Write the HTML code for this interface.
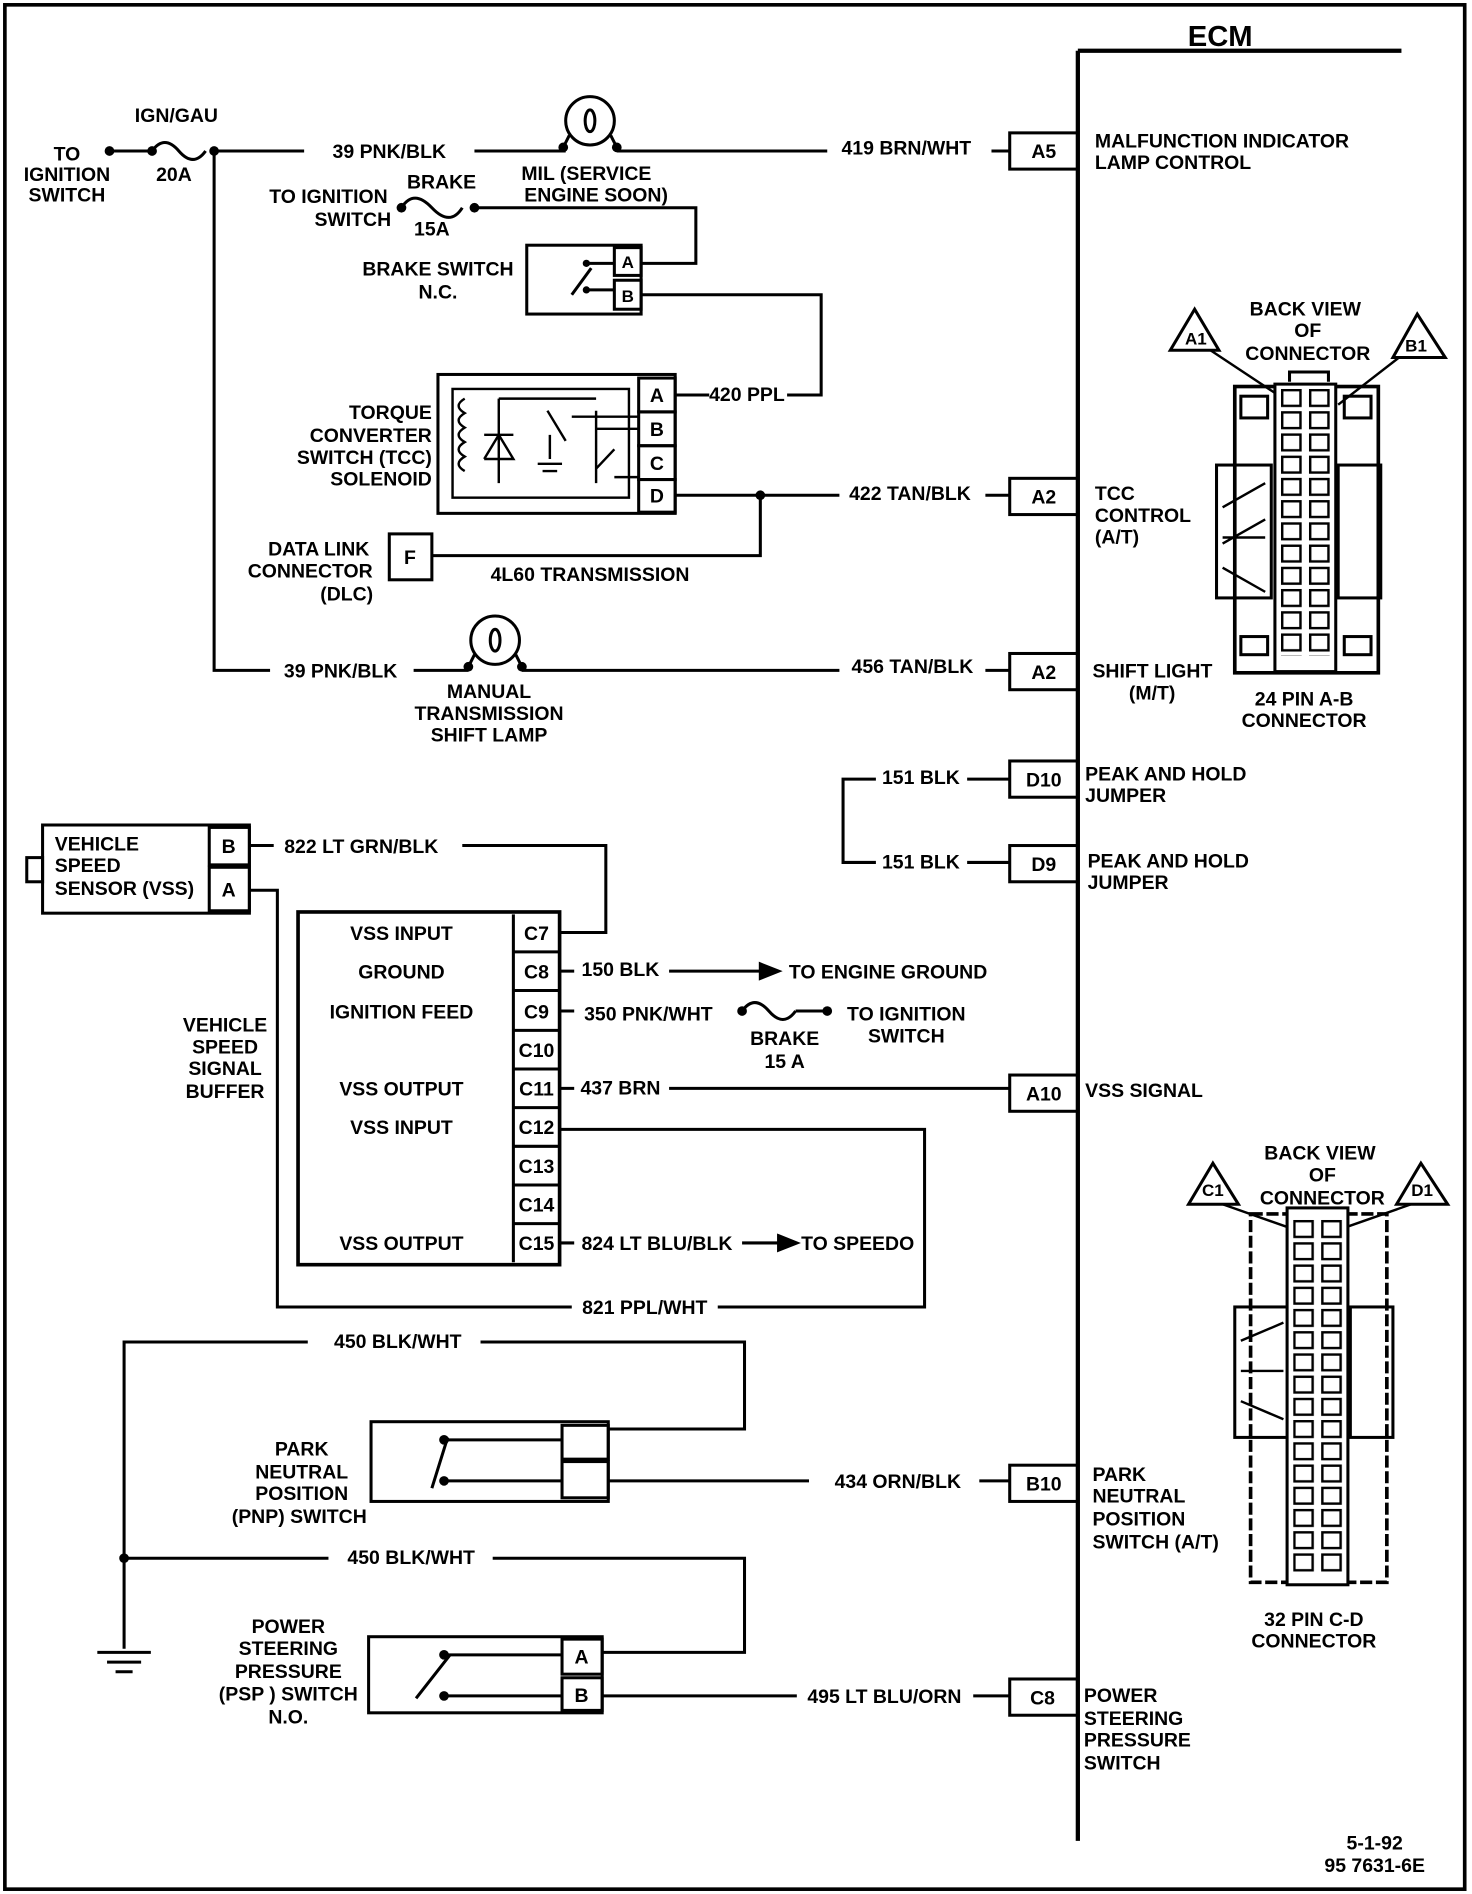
<!DOCTYPE html>
<html><head><meta charset="utf-8"><style>
html,body{margin:0;padding:0;background:#fff;}
svg{display:block;}
text{font-family:"Liberation Sans",sans-serif;font-weight:bold;font-size:16px;fill:#000;}
.m{text-anchor:middle}.e{text-anchor:end}
</style></head><body>
<svg width="1472" height="1894" viewBox="0 0 1210 1568" preserveAspectRatio="none" xmlns="http://www.w3.org/2000/svg">
<defs>
<pattern id="pinsAB" x="1053" y="322" width="23" height="18.4" patternUnits="userSpaceOnUse">
<rect x="1" y="1" width="15" height="13" fill="#fff" stroke="#000" stroke-width="2"/></pattern>
<pattern id="pinsCD" x="1063" y="1010" width="23" height="18.4" patternUnits="userSpaceOnUse">
<rect x="1" y="1" width="15" height="13" fill="#fff" stroke="#000" stroke-width="2"/></pattern>
</defs>
<g fill="none" stroke="#000" stroke-width="2.5">
<rect x="4" y="4" width="1200" height="1560" stroke-width="3"/>
<path d="M886 42V1524M886 42H1152" stroke-width="3.5"/>
<path d="M88 125H125M176 125H250M390 125H465M507 125H680M815 125H830"/>
<path d="M125 125q10-14 22 0t22 0"/>
<circle cx="485" cy="100" r="20"/><ellipse cx="485" cy="100" rx="4" ry="9"/>
<path d="M468 112L463 122M502 112L507 122"/>
<rect x="830" y="110" width="56" height="30"/>
<path d="M176 125V555H222M340 555H385M429 555H690M810 555H830"/>
<circle cx="407" cy="530" r="20"/><ellipse cx="407" cy="530" rx="4" ry="9"/>
<path d="M390 542L385 552M424 542L429 552"/>
<rect x="830" y="541" width="56" height="30"/>
<path d="M330 172q10-16 25 0t25 0M390 172H572V218H527"/>
<rect x="433" y="203" width="94" height="57"/>
<rect x="505" y="205" width="22" height="23"/><rect x="505" y="232" width="22" height="24"/>
<path d="M482 218H505M482 240H505M470 244L486 222"/>
<path d="M527 244H675V327H647M555 327H583"/>
<rect x="360" y="310" width="195" height="115"/>
<rect x="525" y="313" width="30" height="28"/><rect x="525" y="341" width="30" height="28"/><rect x="525" y="369" width="30" height="28"/><rect x="525" y="397" width="30" height="27"/>
<rect x="372" y="322" width="145" height="90" stroke-width="2"/>
<path d="M382 330q-10 6 0 12q-10 6 0 12q-10 6 0 12q-10 6 0 12q-10 6 0 12" stroke-width="2"/>
<path d="M410 330V400M398 380H422L410 360L398 380M398 360H422M450 340L465 365M452 360V380M442 384H462M446 390H458M490 340V400M490 388L505 372M470 345H525M490 355H525M505 395H525M410 330H490" stroke-width="2"/>
<path d="M555 410H690M810 410H830M625 410V460H355"/>
<rect x="830" y="396" width="56" height="30"/>
<rect x="320" y="442" width="35" height="38"/>
<path d="M720 645H693V714H720M795 645H830M795 714H830"/>
<rect x="830" y="630" width="56" height="30"/><rect x="830" y="700" width="56" height="30"/>
<rect x="35" y="683" width="170" height="73"/>
<rect x="172" y="685" width="33" height="31"/><rect x="172" y="718" width="33" height="36"/>
<rect x="22" y="710" width="13" height="20"/>
<path d="M205 700H225M380 700H498V772H460M205 737H228V1082H470M590 1082H760V935H460"/>
<rect x="245" y="755" width="215" height="292" stroke-width="3"/>
<path d="M422 757V1045"/>
<path d="M422 788H460M422 820H460M422 853H460M422 885H460M422 917H460M422 949H460M422 981H460M422 1013H460"/>
<path d="M460 804H472M550 804H625M460 837H472M610 837q10-14 22 0t22 0M654 837H680M460 901H472M550 901H830M460 1029H472M610 1029H640"/>
<path d="M625 798L640 804L625 810Z" fill="#000"/><path d="M640 1023L655 1029L640 1035Z" fill="#000"/>
<rect x="830" y="890" width="56" height="30"/>
<path d="M253 1111H102V1365M80 1368H124M88 1376H116M95 1384H109M395 1111H612V1183H500M102 1290H270M405 1290H612V1368H495"/>
<rect x="305" y="1177" width="195" height="66"/>
<rect x="462" y="1180" width="38" height="28"/><rect x="462" y="1210" width="38" height="30"/>
<path d="M365 1192H462M365 1226H462M355 1232L368 1190"/>
<path d="M500 1226H665M805 1226H830"/>
<rect x="830" y="1213" width="56" height="30"/>
<rect x="303" y="1355" width="192" height="63"/>
<rect x="462" y="1357" width="33" height="29"/><rect x="462" y="1389" width="33" height="27"/>
<path d="M365 1370H462M365 1404H462M342 1406L370 1370"/>
<path d="M495 1404H655M800 1404H830"/>
<rect x="830" y="1390" width="56" height="30"/>
<path d="M982 256L962 290H1002Z M1165 260L1145 296H1188Z" />
<path d="M995 290L1055 330M1150 296L1100 335" stroke-width="2"/>
<rect x="1015" y="320" width="118" height="237" stroke-width="3"/>
<rect x="1000" y="385" width="45" height="110"/><rect x="1100" y="385" width="35" height="110"/>
<rect x="1048" y="318" width="50" height="238" fill="#fff"/>
<rect x="1053" y="322" width="46" height="221" fill="url(#pinsAB)" stroke="none"/>
<path d="M1060 316V308H1092V316" />
<rect x="1020" y="328" width="22" height="18"/><rect x="1105" y="328" width="22" height="18"/>
<rect x="1020" y="527" width="22" height="15"/><rect x="1105" y="527" width="22" height="15"/>
<path d="M1005 420L1040 400M1005 445H1040M1005 470L1040 490M1005 450L1040 430" stroke-width="2"/>
<path d="M997 963L977 997H1018Z M1168 963L1148 997H1190Z"/>
<path d="M1005 997L1070 1020M1160 997L1095 1020" stroke-width="2"/>
<rect x="1028" y="1005" width="112" height="305" stroke-width="3" stroke-dasharray="10 3"/>
<rect x="1015" y="1082" width="45" height="108"/><rect x="1110" y="1082" width="35" height="108"/>
<rect x="1058" y="1000" width="50" height="312" fill="#fff"/>
<rect x="1063" y="1008" width="46" height="296" fill="url(#pinsCD)" stroke="none"/>
<path d="M1020 1110L1055 1095M1020 1135H1055M1020 1160L1055 1175" stroke-width="2"/>
</g>
<g fill="#000">
<circle cx="90" cy="125" r="4"/><circle cx="125" cy="125" r="4"/><circle cx="176" cy="125" r="4"/>
<circle cx="463" cy="122" r="4"/><circle cx="507" cy="122" r="4"/><circle cx="385" cy="552" r="4"/><circle cx="429" cy="552" r="4"/>
<circle cx="330" cy="172" r="4"/><circle cx="390" cy="172" r="4"/><circle cx="625" cy="410" r="4"/>
<circle cx="610" cy="837" r="4"/><circle cx="680" cy="837" r="4"/><circle cx="102" cy="1290" r="4"/>
<circle cx="482" cy="218" r="3"/><circle cx="482" cy="240" r="3"/>
<circle cx="365" cy="1192" r="4"/><circle cx="365" cy="1226" r="4"/><circle cx="365" cy="1370" r="4"/><circle cx="365" cy="1404" r="4"/>
</g>
<text x="1003" y="38" class="m" style="font-size:24px">ECM</text>
<text x="145" y="101" class="m">IGN/GAU</text>
<text x="55" y="133" class="m">TO</text><text x="55" y="150" class="m">IGNITION</text><text x="55" y="167" class="m">SWITCH</text>
<text x="143" y="150" class="m">20A</text>
<text x="320" y="131" class="m">39 PNK/BLK</text>
<text x="482" y="149" class="m">MIL (SERVICE</text><text x="490" y="167" class="m">ENGINE SOON)</text>
<text x="745" y="128" class="m">419 BRN/WHT</text>
<text x="858" y="131" class="m">A5</text>
<text x="900" y="122">MALFUNCTION INDICATOR</text><text x="900" y="140">LAMP CONTROL</text>
<text x="270" y="168" class="m">TO IGNITION</text><text x="290" y="187" class="m">SWITCH</text>
<text x="363" y="156" class="m">BRAKE</text><text x="355" y="195" class="m">15A</text>
<text x="360" y="228" class="m">BRAKE SWITCH</text><text x="360" y="247" class="m">N.C.</text>
<text x="516" y="222" class="m" style="font-size:14px">A</text><text x="516" y="250" class="m" style="font-size:14px">B</text>
<text x="614" y="332" class="m">420 PPL</text>
<text x="355" y="347" class="e">TORQUE</text><text x="355" y="366" class="e">CONVERTER</text><text x="355" y="384" class="e">SWITCH (TCC)</text><text x="355" y="402" class="e">SOLENOID</text>
<text x="540" y="333" class="m">A</text><text x="540" y="361" class="m">B</text><text x="540" y="389" class="m">C</text><text x="540" y="416" class="m">D</text>
<text x="748" y="414" class="m">422 TAN/BLK</text><text x="858" y="417" class="m">A2</text>
<text x="900" y="414">TCC</text><text x="900" y="432">CONTROL</text><text x="900" y="450">(A/T)</text>
<text x="337" y="467" class="m">F</text>
<text x="262" y="460" class="m">DATA LINK</text><text x="255" y="478" class="m">CONNECTOR</text><text x="285" y="497" class="m">(DLC)</text>
<text x="485" y="481" class="m">4L60 TRANSMISSION</text>
<text x="280" y="561" class="m">39 PNK/BLK</text>
<text x="402" y="578" class="m">MANUAL</text><text x="402" y="596" class="m">TRANSMISSION</text><text x="402" y="614" class="m">SHIFT LAMP</text>
<text x="750" y="557" class="m">456 TAN/BLK</text><text x="858" y="562" class="m">A2</text>
<text x="898" y="561">SHIFT LIGHT</text><text x="928" y="579">(M/T)</text>
<text x="757" y="649" class="m">151 BLK</text><text x="858" y="651" class="m">D10</text>
<text x="892" y="646">PEAK AND HOLD</text><text x="892" y="664">JUMPER</text>
<text x="757" y="719" class="m">151 BLK</text><text x="858" y="721" class="m">D9</text>
<text x="894" y="718">PEAK AND HOLD</text><text x="894" y="736">JUMPER</text>
<text x="45" y="704">VEHICLE</text><text x="45" y="722">SPEED</text><text x="45" y="741">SENSOR (VSS)</text>
<text x="188" y="706" class="m">B</text><text x="188" y="742" class="m">A</text>
<text x="297" y="706" class="m">822 LT GRN/BLK</text>
<text x="330" y="778" class="m">VSS INPUT</text><text x="330" y="810" class="m">GROUND</text><text x="330" y="843" class="m">IGNITION FEED</text>
<text x="330" y="907" class="m">VSS OUTPUT</text><text x="330" y="939" class="m">VSS INPUT</text><text x="330" y="1035" class="m">VSS OUTPUT</text>
<text x="441" y="778" class="m">C7</text><text x="441" y="810" class="m">C8</text><text x="441" y="843" class="m">C9</text><text x="441" y="875" class="m">C10</text><text x="441" y="907" class="m">C11</text><text x="441" y="939" class="m">C12</text><text x="441" y="971" class="m">C13</text><text x="441" y="1003" class="m">C14</text><text x="441" y="1035" class="m">C15</text>
<text x="510" y="808" class="m">150 BLK</text><text x="730" y="810" class="m">TO ENGINE GROUND</text>
<text x="533" y="845" class="m">350 PNK/WHT</text><text x="745" y="845" class="m">TO IGNITION</text><text x="745" y="863" class="m">SWITCH</text>
<text x="645" y="865" class="m">BRAKE</text><text x="645" y="884" class="m">15 A</text>
<text x="510" y="906" class="m">437 BRN</text><text x="858" y="911" class="m">A10</text><text x="892" y="908">VSS SIGNAL</text>
<text x="540" y="1035" class="m">824 LT BLU/BLK</text><text x="705" y="1035" class="m">TO SPEEDO</text>
<text x="185" y="854" class="m">VEHICLE</text><text x="185" y="872" class="m">SPEED</text><text x="185" y="890" class="m">SIGNAL</text><text x="185" y="909" class="m">BUFFER</text>
<text x="530" y="1088" class="m">821 PPL/WHT</text>
<text x="327" y="1116" class="m">450 BLK/WHT</text>
<text x="248" y="1205" class="m">PARK</text><text x="248" y="1224" class="m">NEUTRAL</text><text x="248" y="1242" class="m">POSITION</text><text x="246" y="1261" class="m">(PNP) SWITCH</text>
<text x="738" y="1232" class="m">434 ORN/BLK</text><text x="858" y="1234" class="m">B10</text>
<text x="898" y="1226">PARK</text><text x="898" y="1244">NEUTRAL</text><text x="898" y="1263">POSITION</text><text x="898" y="1282">SWITCH (A/T)</text>
<text x="338" y="1295" class="m">450 BLK/WHT</text>
<text x="237" y="1352" class="m">POWER</text><text x="237" y="1370" class="m">STEERING</text><text x="237" y="1389" class="m">PRESSURE</text><text x="237" y="1408" class="m">(PSP ) SWITCH</text><text x="237" y="1427" class="m">N.O.</text>
<text x="478" y="1377" class="m">A</text><text x="478" y="1409" class="m">B</text>
<text x="727" y="1410" class="m">495 LT BLU/ORN</text><text x="857" y="1411" class="m">C8</text>
<text x="891" y="1409">POWER</text><text x="891" y="1428">STEERING</text><text x="891" y="1446">PRESSURE</text><text x="891" y="1465">SWITCH</text>
<text x="1073" y="261" class="m">BACK VIEW</text><text x="1075" y="279" class="m">OF</text><text x="1075" y="298" class="m">CONNECTOR</text>
<text x="983" y="285" class="m" style="font-size:14px">A1</text><text x="1164" y="291" class="m" style="font-size:14px">B1</text>
<text x="1072" y="584" class="m">24 PIN  A-B</text><text x="1072" y="602" class="m">CONNECTOR</text>
<text x="1085" y="960" class="m">BACK VIEW</text><text x="1087" y="978" class="m">OF</text><text x="1087" y="997" class="m">CONNECTOR</text>
<text x="997" y="990" class="m" style="font-size:14px">C1</text><text x="1169" y="990" class="m" style="font-size:14px">D1</text>
<text x="1080" y="1346" class="m">32 PIN C-D</text><text x="1080" y="1364" class="m">CONNECTOR</text>
<text x="1130" y="1531" class="m">5-1-92</text><text x="1130" y="1550" class="m">95 7631-6E</text>
</svg>
</body></html>
